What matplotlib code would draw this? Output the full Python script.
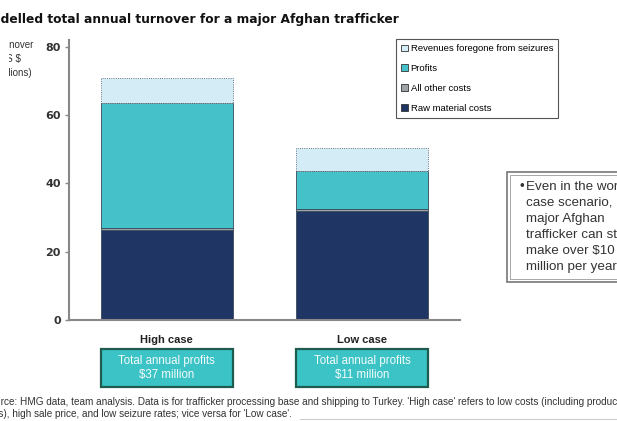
import matplotlib
matplotlib.use("Agg")
import matplotlib.pyplot as plt
from matplotlib.patches import Patch, Rectangle
from matplotlib.transforms import blended_transform_factory, Bbox, TransformedBbox

# data (US$ millions)
cases = ["High case", "Low case"]
raw_material = [26.4, 31.8]
other_costs = [0.6, 0.7]
profits = [36.6, 11.2]
revenue_foregone = [7.3, 6.6]
profit_labels = ["Total annual profits\n$37 million", "Total annual profits\n$11 million"]
y_ticks = [0, 20, 40, 60, 80]
callout_lines = ["Even in the worst", "case scenario,", "major Afghan",
                 "trafficker can still", "make over $10", "million per year"]

NAVY = "#1f3563"
GREY = "#9ea3a8"
TEAL = "#45c2c9"
LIGHT = "#d3ecf5"
ARIAL = "Liberation Sans"

fig = plt.figure(figsize=(6.17, 4.21), dpi=100)
ax = fig.add_axes([69 / 617, 1 - 320 / 421, 391 / 617, 280 / 421])

x = list(range(len(cases)))
w = 0.673
bottom = [0.0] * len(cases)
series = [
    (raw_material, NAVY, "Raw material costs", "-"),
    (other_costs, GREY, "All other costs", "-"),
    (profits, TEAL, "Profits", "-"),
    (revenue_foregone, LIGHT, "Revenues foregone from seizures", ":"),
]
for vals, col, lab, ls in series:
    ax.bar(x, vals, w, bottom=bottom, color=col, edgecolor="#3a4a5a",
           linewidth=0.6, linestyle=ls, label=lab, zorder=2)
    bottom = [b + v for b, v in zip(bottom, vals)]

ax.set_xlim(-0.5, 1.5)
ax.set_ylim(0, 82)
ax.set_yticks(y_ticks)
ax.set_xticks(x)
ax.set_xticklabels(cases, fontsize=8, fontweight="bold", color="#222222", family=ARIAL)
ax.tick_params(axis="x", length=0, pad=11)
ax.tick_params(axis="y", length=3, width=1, color="#888888", labelsize=8,
               labelcolor="#333333", pad=3)
for t in ax.get_yticklabels():
    t.set_fontweight("bold")
for s in ["top", "right"]:
    ax.spines[s].set_visible(False)
for s in ["left", "bottom"]:
    ax.spines[s].set_color("#888888")
    ax.spines[s].set_linewidth(1.5)

# title + y label (cut off at the left as in the slide)
fig.text(-0.033, 1 - 20 / 421, "Modelled total annual turnover for a major Afghan trafficker",
         fontsize=8.8, fontweight="bold", color="#111111", va="center", ha="left")
ylab = fig.text(-4 / 617, 1 - 59 / 421, "Turnover\n(US $\nmillions)", fontsize=7,
                color="#333333", ha="left", va="center", linespacing=1.5, family=ARIAL)
ylab.set_clip_box(TransformedBbox(Bbox([[9 / 617, 0], [1, 1]]), fig.transFigure))
ylab.set_clip_on(True)

# legend, top entry first
handles = [Patch(facecolor=c, edgecolor="#333333", linewidth=0.6, label=l)
           for _, c, l, _ in series][::-1]
leg = fig.legend(handles=handles, loc="upper left",
                 bbox_to_anchor=(396 / 617, 1 - 39 / 421),
                 prop={"family": ARIAL, "size": 6.8},
                 handlelength=0.7, handleheight=0.7, handletextpad=0.3,
                 labelspacing=1.15, borderpad=0.55, borderaxespad=0,
                 fancybox=False, edgecolor="#555555", framealpha=1)
leg.get_frame().set_linewidth(0.8)

# profit boxes under each bar
tr = blended_transform_factory(ax.transData, fig.transFigure)
for xi, lab in zip(x, profit_labels):
    y0, y1 = 1 - 387 / 421, 1 - 349 / 421
    ax.add_patch(Rectangle((xi - w / 2, y0), w, y1 - y0, transform=tr,
                           facecolor="#3cc3c6", edgecolor="#1d5c4e",
                           linewidth=1.6, clip_on=False, zorder=3))
    ax.text(xi, (y0 + y1) / 2, lab, transform=tr, ha="center", va="center",
            color="#f4fbfb", fontsize=8.3, zorder=4, linespacing=1.2, family=ARIAL)

# call-out box on the right
fig.patches.append(Rectangle((507 / 617, 1 - 282 / 421), 0.3, 110 / 421,
                             transform=fig.transFigure, facecolor="white",
                             edgecolor="#777777", linewidth=1.2))
fig.patches.append(Rectangle((510 / 617, 1 - 279 / 421), 0.3, 104 / 421,
                             transform=fig.transFigure, facecolor="none",
                             edgecolor="#999999", linewidth=0.6))
fig.text(519 / 617, 1 - 227 / 421, "\u2022" + "\n " * (len(callout_lines) - 1),
         fontsize=9.6, color="#333333", ha="left", va="center", linespacing=1.45,
         family=ARIAL)
fig.text(526 / 617, 1 - 227 / 421, "\n".join(callout_lines),
         fontsize=9.6, color="#333333", ha="left", va="center", linespacing=1.45,
         family=ARIAL)

# source note
fig.text(-0.027, 1 - 402 / 421,
         "Source: HMG data, team analysis. Data is for trafficker processing base and shipping to Turkey. "
         "'High case' refers to low costs (including production",
         fontsize=7.2, color="#333333", ha="left", va="center", family=ARIAL)
fig.text(-0.033, 1 - 414 / 421,
         "costs), high sale price, and low seizure rates; vice versa for 'Low case'.",
         fontsize=7.2, color="#333333", ha="left", va="center", family=ARIAL)
fig.add_artist(plt.Line2D([300 / 617, 1], [1 - 419 / 421] * 2, color="#cccccc", linewidth=0.8))

fig.savefig("out.png", dpi=100)
